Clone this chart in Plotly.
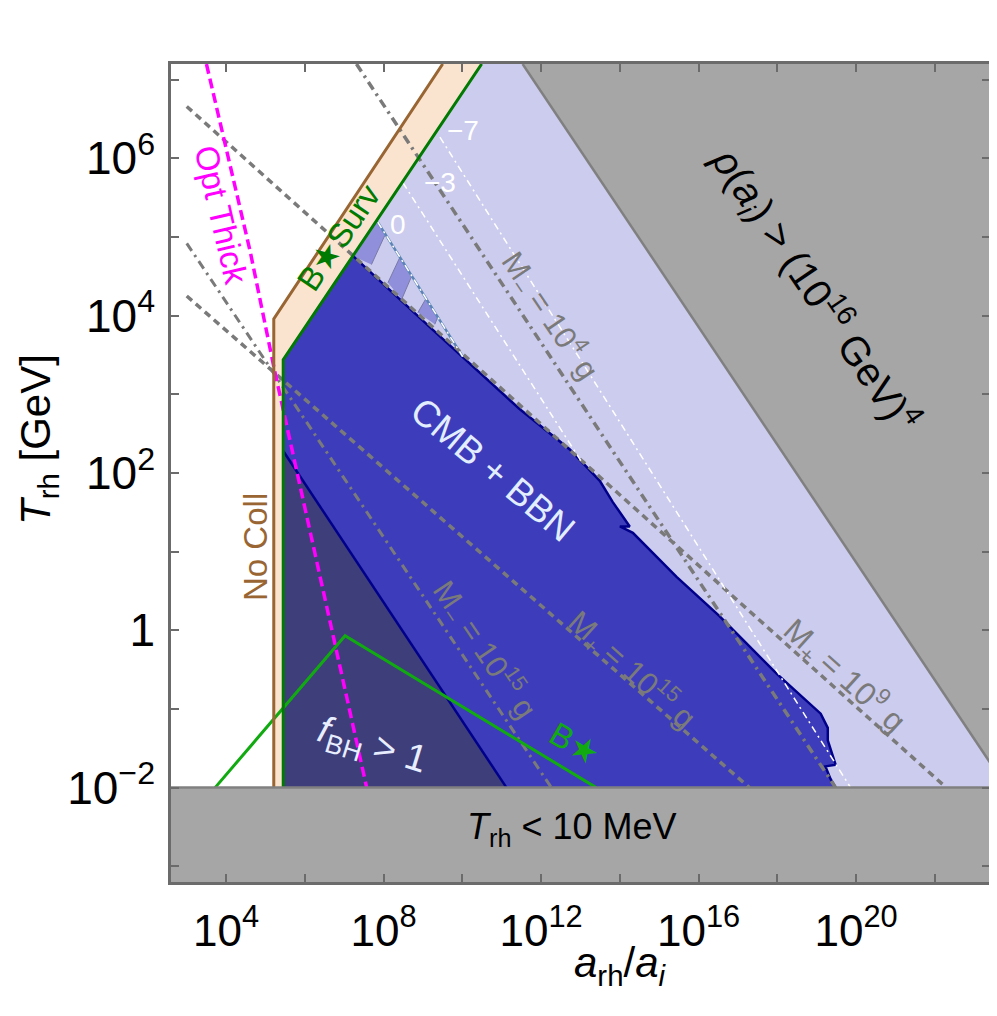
import plotly.graph_objects as go

# ---- axis ranges (log10 values) ----
X_RANGE = [2.6, 23.4]
Y_RANGE = [-3.2, 7.2]
T_MIN = -2.0  # T_rh = 10 MeV

# ---- region boundaries, (log10 a_rh/a_i , log10 T_rh/GeV) ----
RHO_X = [11.53, 23.4, 23.4]
RHO_Y = [7.2, 7.2, -1.68]

BROWN_X = [5.21, 5.21, 9.50]
BROWN_Y = [-2.0, 3.96, 7.2]

SURV_X = [5.45, 5.45, 10.49]
SURV_Y = [-2.0, 3.44, 7.2]

CMB_X = [7.22, 9.25, 11.46, 12.73, 13.49, 13.82, 14.25, 14.00, 14.33, 15.44,
         16.53, 17.98, 19.10, 19.28, 19.28, 19.48, 19.22, 19.35, 19.48]
CMB_Y = [4.76, 3.82, 2.81, 2.30, 1.90, 1.63, 1.32, 1.32, 1.24, 0.68,
         0.18, -0.55, -1.06, -1.24, -1.40, -1.71, -1.73, -1.89, -2.0]

FBH_X = [5.45, 11.12, 5.45]
FBH_Y = [2.28, -2.0, -2.0]

HATCH_X = [7.22, 7.84, 10.01]
HATCH_Y = [4.76, 5.22, 3.47]
STRIPE_UP_X = [8.03, 8.41, 8.71, 9.09, 9.38]
STRIPE_UP_Y = [5.02, 4.74, 4.50, 4.23, 3.99]
STRIPE_LO_X = [7.69, 8.11, 8.46, 8.87, 9.30]
STRIPE_LO_Y = [4.65, 4.42, 4.21, 4.04, 3.89]

OPT_X = [3.50, 4.61, 5.24, 5.82, 6.64, 7.57]
OPT_Y = [7.20, 4.82, 3.28, 1.96, 0.14, -2.0]

BSTAR_X = [3.72, 7.02, 13.40]
BSTAR_Y = [-2.0, -0.07, -2.0]

# mass contours: start/end points
MP9_X, MP9_Y = [3.0, 22.29], [6.66, -2.0]
MP15_X, MP15_Y = [3.0, 17.29], [4.25, -2.0]
MM15_X, MM15_Y = [3.0, 12.26], [4.92, -2.0]
MM4_X, MM4_Y = [7.31, 19.48], [7.2, -2.0]

# white contours labelled -7, -3, 0
W7_X, W7_Y = [9.43, 19.86], [6.27, -2.0]
W3_X, W3_Y = [8.49, 13.03], [5.69, 2.14]
W0_X, W0_Y = [7.85, 10.01], [5.19, 3.48]

X_TICKS = [4, 6, 8, 10, 12, 14, 16, 18, 20, 22]
X_LABELED = [4, 8, 12, 16, 20]
Y_TICKS = [-3, -2, -1, 0, 1, 2, 3, 4, 5, 6, 7]
Y_LABELS = {-2: "10<sup>−2</sup>", 0: "1", 2: "10<sup>2</sup>", 4: "10<sup>4</sup>", 6: "10<sup>6</sup>"}

# ---- colours ----
LAVENDER = "#ccccee"
PEACH = "#fae4cf"
GRAY = "#a6a6a6"
GRAY_EDGE = "#808080"
CMB_BLUE = "#3d3dbb"
NAVY = "#3e3e7b"
EDGE_BLUE = "#00008b"
HATCH_PURPLE = "#8f8fdb"
BROWN = "#996633"
DKGREEN = "#007a00"
LTGREEN = "#11aa11"
MAGENTA = "#ff00ff"
LINE_GRAY = "#7a7a7a"

fig = go.Figure()


def poly(xs, ys, fill, lc=None, w=0):
    fig.add_trace(go.Scatter(x=xs, y=ys, mode="lines", fill="toself", fillcolor=fill,
                             line=dict(color=lc or fill, width=w), hoverinfo="skip",
                             showlegend=False))


def line(xs, ys, color, w, dash="solid"):
    fig.add_trace(go.Scatter(x=xs, y=ys, mode="lines",
                             line=dict(color=color, width=w, dash=dash),
                             hoverinfo="skip", showlegend=False))


xmax = X_RANGE[1]

# lavender constrained region
poly([SURV_X[0], SURV_X[1], SURV_X[2], RHO_X[0], RHO_X[2], RHO_X[2]],
     [T_MIN, SURV_Y[1], SURV_Y[2], RHO_Y[0], RHO_Y[2], T_MIN], LAVENDER)
# peach strip
poly(BROWN_X + SURV_X[::-1], BROWN_Y + SURV_Y[::-1], PEACH)
# rho > (1e16 GeV)^4
poly(RHO_X, RHO_Y, GRAY)
line([RHO_X[0], RHO_X[2]], [RHO_Y[0], RHO_Y[2]], GRAY_EDGE, 2.5)

# hatch
poly(HATCH_X, HATCH_Y, LAVENDER)
poly([HATCH_X[0], HATCH_X[1], STRIPE_UP_X[0], STRIPE_LO_X[0]],
     [HATCH_Y[0], HATCH_Y[1], STRIPE_UP_Y[0], STRIPE_LO_Y[0]], HATCH_PURPLE)
poly([STRIPE_UP_X[1], STRIPE_UP_X[2], STRIPE_LO_X[2], STRIPE_LO_X[1]],
     [STRIPE_UP_Y[1], STRIPE_UP_Y[2], STRIPE_LO_Y[2], STRIPE_LO_Y[1]], HATCH_PURPLE)
poly([STRIPE_UP_X[3], STRIPE_UP_X[4], STRIPE_LO_X[4], STRIPE_LO_X[3]],
     [STRIPE_UP_Y[3], STRIPE_UP_Y[4], STRIPE_LO_Y[4], STRIPE_LO_Y[3]], HATCH_PURPLE)
for i in range(len(STRIPE_UP_X)):
    line([STRIPE_UP_X[i], STRIPE_LO_X[i]], [STRIPE_UP_Y[i], STRIPE_LO_Y[i]], "#7a7aa8", 1)

# CMB + BBN
poly([SURV_X[0], SURV_X[1]] + CMB_X + [CMB_X[-1]],
     [T_MIN, SURV_Y[1]] + CMB_Y + [T_MIN], CMB_BLUE)
line(CMB_X, CMB_Y, EDGE_BLUE, 2.5)
# f_BH > 1
poly(FBH_X, FBH_Y, NAVY)
line(FBH_X[:2], FBH_Y[:2], EDGE_BLUE, 2.5)

# upper edge of hatch
line(W0_X, W0_Y, "#5b85b5", 2.5)

# mass contours
line(MP9_X, MP9_Y, LINE_GRAY, 3.5, "7px,5px")
line(MP15_X, MP15_Y, LINE_GRAY, 3.5, "7px,5px")
line(MM15_X, MM15_Y, LINE_GRAY, 3, "9px,5px,2.5px,5px")
line(MM4_X, MM4_Y, LINE_GRAY, 3.5, "9px,5px,2.5px,5px")

# white contours
line(W7_X, W7_Y, "white", 1.5, "7px,4px,2px,4px")
line(W3_X, W3_Y, "white", 1.5, "7px,4px,2px,4px")
line(W0_X, W0_Y, "white", 1.5, "7px,4px,2px,4px")

# optically thick
line(OPT_X, OPT_Y, MAGENTA, 3.5, "10px,5px")
# B* line
line(BSTAR_X, BSTAR_Y, LTGREEN, 3)
# boundaries
line(BROWN_X, BROWN_Y, BROWN, 3)
line(SURV_X, SURV_Y, DKGREEN, 3)

# T_rh < 10 MeV band
poly([X_RANGE[0] - 1, xmax + 1, xmax + 1, X_RANGE[0] - 1],
     [Y_RANGE[0] - 1, Y_RANGE[0] - 1, T_MIN, T_MIN], GRAY)
line([X_RANGE[0], xmax], [T_MIN, T_MIN], GRAY_EDGE, 2.5)

# ---- labels ----
F = "Liberation Sans"


def label(x, y, text, color, size, angle=0):
    fig.add_annotation(x=x, y=y, text=text, showarrow=False, textangle=angle,
                       font=dict(family=F, size=size, color=color),
                       xanchor="center", yanchor="middle")


label(3.89, 5.28, "Opt Thick", MAGENTA, 33, 77)
label(6.86, 4.99, "B★Surv", DKGREEN, 33, -56)
label(4.76, 1.06, "No Coll", BROWN, 33, -90)
label(10.77, 2.05, "CMB + BBN", "#e2eeff", 37, 40)
label(7.70, -1.48, "<i>f</i><sub>BH</sub> > 1", "#e8eeff", 38, 17)
label(12.85, -1.44, "B★", LTGREEN, 33, 30)
label(12.78, -2.52, "<i>T</i><sub>rh</sub> < 10 MeV", "black", 36)
label(18.95, 4.33, "<i>ρ</i>(<i>a<sub>i</sub></i>) > (10<sup>16</sup> GeV)<sup>4</sup>", "black", 40, 56)
label(12.22, 4.00, "M<sub>−</sub> = 10<sup>4</sup> g", LINE_GRAY, 31, 56)
label(10.57, -0.24, "M<sub>−</sub> = 10<sup>15</sup> g", LINE_GRAY, 31, 56)
label(14.30, -0.50, "M<sub>+</sub> = 10<sup>15</sup> g", LINE_GRAY, 31, 42)
label(19.71, -0.58, "M<sub>+</sub> = 10<sup>9</sup> g", LINE_GRAY, 32, 42)
label(10.01, 6.36, "−7", "white", 28)
label(9.43, 5.69, "−3", "white", 28)
label(8.36, 5.16, "0", "white", 28)

# axis titles (paper coords)
fig.add_annotation(xref="paper", yref="paper", x=(38 - 171) / 819, y=(882 - 440) / 818,
                   xanchor="center", yanchor="middle",
                   text="<i>T</i><sub>rh</sub> [GeV]", textangle=-90, showarrow=False,
                   font=dict(family=F, size=42, color="black"))
fig.add_annotation(xref="paper", yref="paper", x=(620 - 171) / 819, y=(882 - 966) / 818,
                   xanchor="center", yanchor="middle",
                   text="<i>a</i><sub>rh</sub>/<i>a<sub>i</sub></i>", showarrow=False,
                   font=dict(family=F, size=42, color="black"))

xt_text = [f"10<sup>{v}</sup>" if v in X_LABELED else "" for v in X_TICKS]
yt_text = [Y_LABELS.get(v, "") for v in Y_TICKS]

axis_common = dict(showgrid=False, zeroline=False, showline=True, linecolor="#6b6b6b",
                   linewidth=2.5, mirror="ticks", ticks="inside", ticklen=8,
                   tickwidth=1.5, tickcolor="#6b6b6b", automargin=False)

# the page body has an 8px margin, so the plot area is placed 8px up/left
fig.update_layout(
    width=997, height=1016,
    margin=dict(l=163, r=15, t=56, b=142),
    paper_bgcolor="white", plot_bgcolor="white",
    xaxis=dict(range=X_RANGE, tickmode="array", tickvals=X_TICKS, ticktext=xt_text,
               tickfont=dict(family=F, size=44, color="black"),
               ticklabelstandoff=8, **axis_common),
    yaxis=dict(range=Y_RANGE, tickmode="array", tickvals=Y_TICKS, ticktext=yt_text,
               tickfont=dict(family=F, size=46, color="black"), ticklabelstandoff=4,
               **axis_common),
    showlegend=False,
)

fig.write_html("out.html")
